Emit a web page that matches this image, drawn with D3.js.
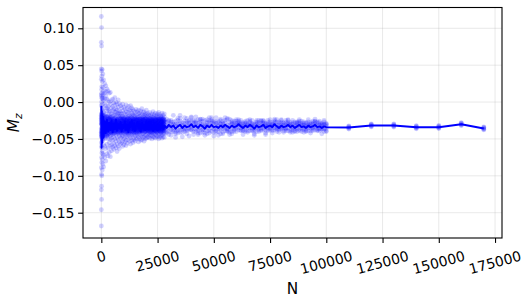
<!DOCTYPE html>
<html>
<head>
<meta charset="utf-8">
<script src="https://cdn.jsdelivr.net/npm/d3@7"></script>
<style>
  body { margin: 0; background: #fff; }
  text { font-family: "DejaVu Sans", sans-serif; }
</style>
</head>
<body>
<svg id="chart" width="532" height="303"></svg>
<script>
// values are in thousandths of M_z

// dense part, N = 0 .. 28000
var nA = [0, 100, 200, 400, 700, 1000, 1500].concat(d3.range(2000, 28001, 500));
var lineA = [-5, -62, -12, -55, -20, -48, -26,
  -42, -24, -40, -28, -38,
  -25, -41, -29, -37, -24, -39, -30, -36,
  -27, -40, -31, -35, -26, -38, -30, -41, -28, -34, -25, -37,
  -29, -39, -32, -27, -36, -30, -40, -28, -35, -31, -38, -26,
  -33, -37, -29, -36, -31, -39, -28, -35, -32, -38, -30, -36, -33, -29, -37, -32];
var samplesA = [
  [116, 81, 45, 31, 10, -20, -55, -89, -119, -146, -168, -5],
  [101, 76, 42, 17, 8, -40, -75, -98, -114, -132, 0, -60],
  [35, 21, 12, -15, -48, -69, -82, -100, -30, 5, -62, -25],
  [44, 28, 6, -10, -22, -35, -50, -66, -78, -92, -3, -41],
  [38, 20, 4, -12, -28, -38, -52, -70, -84, 10, -45, -18],
  [30, 15, 2, -14, -26, -33, -44, -58, -72, -88, -8, -50],
  [25, 12, -2, -18, -27, -36, -47, -60, -75, 5, -40, -22],
  [22, 8, -5, -16, -30, -38, -49, -63, -80, 14, -25, -44],
  [18, 4, -8, -20, -29, -35, -46, -57, -70, -12, -40, -31],
  [15, 2, -10, -21, -31, -39, -50, -62, -73, -26, -44, -6],
  [12, 0, -12, -23, -28, -34, -43, -55, -68, -17, -37, -30],
  [13, -3, -14, -24, -33, -40, -51, -60, -74, -20, -29, -46],
  [2, -8, -16, -25, -30, -35, -41, -49, -58, -66, -21, -38],
  [4, -6, -19, -27, -33, -37, -44, -52, -61, -12, -29, -40],
  [-1, -10, -18, -24, -31, -34, -39, -47, -56, -64, -27, -43],
  [6, -4, -13, -22, -28, -36, -42, -50, -59, -17, -33, -38],
  [0, -9, -20, -26, -32, -35, -45, -53, -62, -14, -30, -39],
  [-3, -11, -17, -23, -29, -34, -40, -48, -57, -67, -25, -37],
  [3, -7, -15, -26, -31, -36, -43, -51, -60, -19, -28, -41],
  [-2, -12, -21, -27, -33, -38, -46, -54, -63, -16, -30, -35],
  [-5, -14, -22, -28, -32, -36, -41, -49, -57, -19, -30, -38],
  [-8, -16, -20, -26, -31, -35, -40, -47, -55, -24, -33, -44],
  [-3, -12, -19, -27, -30, -34, -39, -46, -53, -60, -29, -37],
  [-7, -15, -23, -29, -33, -37, -42, -50, -58, -21, -31, -26],
  [-10, -17, -21, -28, -32, -35, -43, -48, -54, -25, -36, -39],
  [-4, -13, -20, -25, -30, -34, -38, -45, -52, -59, -28, -41],
  [-9, -16, -22, -27, -31, -36, -40, -47, -56, -24, -33, -38],
  [-6, -14, -19, -26, -29, -33, -37, -44, -51, -22, -35, -42],
  [-11, -18, -23, -28, -32, -36, -41, -46, -53, -26, -30, -39],
  [-5, -12, -20, -25, -31, -34, -39, -48, -57, -23, -37, -29],
  [-8, -15, -21, -27, -30, -35, -40, -45, -52, -18, -33, -43],
  [-10, -17, -22, -26, -32, -37, -42, -49, -55, -24, -29, -36],
  [-12, -18, -23, -28, -31, -35, -39, -44, -51, -26, -33, -37],
  [-14, -19, -24, -27, -32, -36, -40, -46, -53, -21, -30, -38],
  [-10, -17, -22, -29, -33, -34, -41, -45, -50, -25, -31, -36],
  [-13, -20, -25, -28, -30, -35, -38, -43, -49, -23, -32, -40],
  [-11, -16, -21, -27, -31, -33, -39, -47, -54, -24, -36, -29],
  [-15, -19, -24, -26, -32, -37, -41, -44, -50, -22, -30, -35],
  [-12, -18, -23, -29, -30, -34, -38, -45, -52, -27, -33, -40],
  [-9, -17, -22, -27, -31, -36, -40, -46, -51, -25, -34, -38],
  [-14, -20, -25, -28, -33, -35, -39, -43, -48, -23, -30, -37],
  [-13, -18, -21, -26, -32, -34, -41, -47, -53, -24, -29, -36],
  [-16, -19, -24, -29, -31, -36, -38, -44, -50, -22, -33, -40],
  [-11, -17, -23, -27, -30, -35, -39, -45, -49, -26, -32, -37],
  [-15, -20, -24, -28, -31, -34, -38, -43, -48, -26, -33, -36],
  [-17, -21, -25, -29, -32, -35, -37, -42, -47, -23, -30, -39],
  [-14, -19, -26, -27, -33, -36, -40, -44, -49, -22, -31, -35],
  [-18, -22, -24, -30, -31, -34, -38, -41, -46, -27, -33, -37],
  [-16, -20, -25, -28, -32, -35, -39, -45, -50, -24, -30, -36],
  [-13, -21, -23, -29, -31, -33, -37, -42, -47, -26, -34, -40],
  [-17, -19, -26, -28, -33, -36, -38, -43, -48, -22, -31, -35],
  [-15, -22, -24, -27, -30, -34, -39, -44, -49, -25, -32, -37],
  [-18, -20, -25, -29, -32, -35, -40, -41, -46, -23, -30, -38],
  [-16, -21, -23, -28, -31, -33, -37, -42, -47, -26, -34, -36],
  [-14, -19, -26, -30, -33, -36, -38, -45, -50, -24, -31, -39],
  [-17, -22, -24, -27, -31, -34, -39, -43, -48, -25, -33, -35],
  [-19, -20, -25, -29, -32, -35, -37, -41, -46, -23, -30, -38],
  [-15, -21, -23, -28, -30, -33, -40, -44, -49, -27, -34, -36],
  [-18, -22, -26, -29, -32, -36, -38, -42, -47, -24, -31, -37],
  [-16, -20, -24, -27, -31, -34, -39, -43, -48, -25, -33, -35]
];
// the crowded core of the dense part, offsets from coreCenter
var coreCenter = -32;
var coreA = [
  [14, -9, 3, -15, 7, -4, 10, -12], [-6, 12, -14, 2, 9, -10, 5, 16],
  [8, -13, 4, -3, 15, -7, -11, 1], [-10, 6, 13, -5, -1, 11, -15, 3],
  [12, -4, -9, 7, -14, 2, 9, -6], [-2, 10, -7, 14, -11, 5, -3, 8],
  [6, -12, 1, -8, 11, -5, 13, -1], [-9, 4, 12, -3, 7, -13, 0, 9],
  [3, -7, 10, -11, 5, 8, -4, -14], [-12, 9, -2, 6, -6, 13, -9, 2],
  [10, -5, 7, -10, 1, -8, 4, 12], [-4, 11, -13, 3, 8, -2, -7, 6],
  [7, -3, 9, -8, 2, -6, 4, -10], [-5, 8, -2, 6, -9, 3, 10, -1],
  [2, -7, 5, -4, 9, -10, 1, 6], [-8, 4, -1, 10, -3, 7, -6, 3],
  [9, -2, -9, 3, 6, -5, 2, -7], [-3, 6, 8, -7, 1, -10, 5, -4],
  [5, -9, 2, 7, -4, 4, -1, 9], [-6, 1, -5, 4, 10, -2, -8, 3],
  [8, -4, 6, -10, 3, -7, 9, 0], [-2, 7, -8, 2, -5, 6, -3, 10],
  [4, -6, 1, 9, -9, 2, 7, -5], [-7, 3, 10, -3, 5, -1, -6, 8],
  [1, -8, 4, 6, -2, 9, -4, -9], [6, -1, -7, 3, 8, -5, 2, -3],
  [-4, 9, -3, -6, 2, 7, -10, 5], [10, -5, 3, -1, -8, 4, 6, -2],
  [-1, 4, -9, 7, 3, -3, 8, -6], [3, -7, 6, -2, -5, 10, -4, 1],
  [-9, 2, 8, -4, 6, -1, 3, -7], [5, -3, -6, 9, 1, -8, 4, 2],
  [-6, 7, 2, -5, -3, 5, -9, 8], [7, -1, -4, 4, 9, -6, 1, -8],
  [-3, 5, -10, 2, -7, 8, 6, -2], [2, -8, 7, -1, 4, -4, -5, 9],
  [-5, 3, 1, -9, 8, -2, 5, -6], [8, -6, 4, 3, -3, 6, -8, 0],
  [-2, 9, -5, 6, -1, -7, 2, 4], [4, -4, -2, -7, 7, 3, -6, 9],
  [-7, 1, 9, -3, 5, -5, 8, -1], [1, -9, 3, 5, -4, 2, -2, 7],
  [6, -2, -8, 1, -6, 9, 4, -4], [-4, 6, 2, -5, 10, -3, -7, 3],
  [9, -7, 5, -2, -1, 7, 1, -5], [-1, 3, -6, 8, -8, 4, -3, 6],
  [3, -5, 7, -4, 2, -9, 5, 1], [-8, 8, -1, 3, 6, -2, -4, -6],
  [5, -2, 4, -9, -3, 6, 2, 8], [-6, 4, -7, 1, 9, -5, 7, -3],
  [2, -1, 6, -6, -4, 3, -9, 5], [-3, 7, -3, 4, 1, -7, 8, -2],
  [7, -6, 1, -2, 5, 4, -5, -8], [-5, 2, 9, -8, 3, -4, 1, 6],
  [0, -4, -5, 7, -7, 8, 3, -1], [4, 6, -2, -3, 2, -6, -8, 9],
  [-7, -1, 5, 3, -9, 1, 6, -4], [1, 8, -6, 5, 4, -3, -2, 7],
  [6, -3, 3, -7, -1, 9, -5, 2], [-2, 5, -9, 2, 7, -4, 4, -6]
];

// middle part, N = 29000 .. 100000
var nB = d3.range(29000, 100001, 1000);
var lineB = [-35, -31, -34, -32, -36, -33, -31, -35, -32, -34,
  -33, -30, -34, -32, -35, -31, -33, -36, -32, -34,
  -31, -34, -33, -35, -32, -34, -31, -33, -35, -32,
  -34, -33, -30, -33, -35, -32, -34, -31, -33, -36,
  -32, -34, -33, -31, -35, -33, -32, -34, -30, -33,
  -35, -32, -34, -33, -31, -34, -32, -35, -33, -31,
  -34, -33, -35, -32, -34, -33, -31, -34, -33, -35,
  -33, -34];
// spread of the samples around each mean, 7 per N
var perB = 7;
var devB = [
  3, -5, 8, -2, 12, -7, 1, -4, 6, -9, 2, 5, -13, -1,
  7, -3, -6, 4, -11, 9, 0, 2, -8, 5, 14, -3, -6, 1,
  -5, 4, 10, -2, -7, 6, -12, 8, -4, 1, -9, 3, 11, -6,
  2, -7, 5, -3, 9, -10, 13, -6, 3, 7, -2, -12, 4, 0,
  6, -1, -8, 11, -4, 3, -6, 5, -9, 2, 8, -5, -3, 12,
  -3, 8, -5, 1, -13, 6, 4, 9, -2, -7, 4, -4, 10, -8,
  5, -6, 2, 9, -3, -10, 7, -1, 4, -8, 12, 3, -5, 6,
  -7, 3, 11, -4, 6, -2, -9, 4, -6, 8, -3, 1, -11, 7,
  1, -4, 7, -8, 3, 10, -5, -9, 5, 2, -6, 11, -2, 4,
  8, -2, -7, 5, -11, 3, 0, 6, -3, 9, -5, -8, 2, 13,
  -4, 7, 3, -9, 5, -1, 10, -2, 6, -7, 4, -12, 8, -3,
  4, -8, 1, 6, -3, 12, -6, 7, -5, 3, -10, 2, -1, 9,
  -6, 2, 9, -4, 7, -11, 3, 5, -7, -2, 8, 4, -9, 1,
  3, -5, -1, 10, -8, 6, -3, -4, 9, -6, 2, 11, -3, -7,
  7, -3, 4, -9, 1, -6, 12, 2, -8, 5, -4, 7, -11, 3,
  -2, 5, -6, 3, 8, -4, 1, 4, -3, 7, -7, 2, -1, 9,
  6, -1, -5, 2, -8, 4, 0, -5, 3, 8, -2, -6, 5, 1,
  1, -4, 7, -3, 5, -9, 2, 3, -6, 1, 6, -2, -8, 4,
  -5, 3, 2, -7, 9, -1, 4, 7, -2, -4, 3, -8, 5, 0,
  4, -6, 8, -2, 1, -5, 3, -3, 5, 2, -7, 6, -1, -9,
  2, -3, -8, 5, -1, 7, 4, 6, -4, 3, -2, 9, -6, 1,
  -6, 1, 4, -2, 7, -4, 8, -1, 3, -7, 5, 2, -5, 6,
  3, -7, 6, 1, -3, 5, -9, 5, -2, -6, 8, -4, 1, 3,
  -4, 8, -2, 5, -6, 2, 0, 1, -5, 4, -8, 6, 3, -3,
  7, -2, 3, -5, 1, -8, 5, -3, 6, -1, 2, -7, 9, -4,
  -1, 4, -6, 8, -3, 2, 6, 4, -4, 7, -2, -5, 1, 8,
  5, -5, 2, -1, -7, 6, 3, -6, 2, 5, -3, 8, -2, -4,
  0, 6, -4, 3, -8, 1, 7, 3, -7, 1, 6, -3, 4, -5,
  -3, 2, 7, -6, 4, -2, -9, 6, -1, -4, 3, 8, -5, 2,
  4, -4, 1, 6, -2, -7, 5, -2, 5, 3, -6, 1, 7, -8,
  2, -6, 8, -3, 5, -1, 3, 1, -3, 6, -5, 4, -8, 2,
  -5, 3, -2, 7, 1, -4, 6, 5, -1, -7, 2, 8, -3, 0,
  6, -2, 4, -8, 3, -5, 1, -4, 7, -2, 5, -6, 3, -1,
  -1, 5, -7, 2, 8, -3, 4, 3, -5, 1, -2, 6, -4, 7,
  5, -3, 2, -6, 1, 7, -4, -2, 4, -8, 6, -1, 3, 5,
  -3, 6, -4, 3, -7, 2, 8, 4, -2, 5, -5, 1, -6, 3
];

// sparse tail
var nC = [110000, 120000, 130000, 140000, 150000, 160000, 170000];
var lineC = [-34.5, -31.7, -31.8, -34.2, -34.0, -30.0, -35.8];
var devC = [1.5, -1.2, 0.6, -2.0, 2.2, -0.4];

var xTicks = [0, 25000, 50000, 75000, 100000, 125000, 150000, 175000];
var yTicks = [-0.15, -0.10, -0.05, 0.00, 0.05, 0.10];

///////////////////////////////////////////////////////////////////////////////
// build points and mean line

var points = [];
var meanLine = [];
nA.forEach(function (n, i) {
  samplesA[i].forEach(function (v) { points.push({ n: n, v: v / 1000 }); });
  (coreA[i] || []).forEach(function (d) { points.push({ n: n, v: (coreCenter + d) / 1000 }); });
  meanLine.push({ n: n, v: lineA[i] / 1000 });
});
nB.forEach(function (n, i) {
  for (var k = 0; k < perB; k++)
    points.push({ n: n, v: (lineB[i] + devB[i * perB + k]) / 1000 });
  meanLine.push({ n: n, v: lineB[i] / 1000 });
});
nC.forEach(function (n, i) {
  devC.forEach(function (d) { points.push({ n: n, v: (lineC[i] + d) / 1000 }); });
  meanLine.push({ n: n, v: lineC[i] / 1000 });
});

///////////////////////////////////////////////////////////////////////////////
// axes

var plotL = 83, plotR = 502, plotT = 7.5, plotB = 238;
var svg = d3.select("#chart");

var x = d3.scaleLinear().domain([-8150, 178100]).range([plotL, plotR]);
var y = d3.scaleLinear().domain([-0.1843, 0.1282]).range([plotB, plotT]);

svg.append("defs").append("clipPath").attr("id", "plot")
  .append("rect").attr("x", plotL).attr("y", plotT)
  .attr("width", plotR - plotL).attr("height", plotB - plotT);

// grid
var grid = svg.append("g").attr("stroke", "#b0b0b0").attr("stroke-opacity", 0.35)
  .attr("stroke-width", 0.8);
grid.selectAll("line.gx").data(xTicks).enter().append("line")
  .attr("x1", function (d) { return x(d); }).attr("x2", function (d) { return x(d); })
  .attr("y1", plotT).attr("y2", plotB);
grid.selectAll("line.gy").data(yTicks).enter().append("line")
  .attr("y1", function (d) { return y(d); }).attr("y2", function (d) { return y(d); })
  .attr("x1", plotL).attr("x2", plotR);

// data
var plot = svg.append("g").attr("clip-path", "url(#plot)");
plot.append("g").selectAll("circle").data(points).enter().append("circle")
  .attr("cx", function (d) { return x(d.n); })
  .attr("cy", function (d) { return y(d.v); })
  .attr("r", 2.4)
  .attr("fill", "#0000ff")
  .attr("fill-opacity", 0.18);

plot.append("path").datum(meanLine)
  .attr("fill", "none").attr("stroke", "#0000ff").attr("stroke-width", 2)
  .attr("stroke-linejoin", "round")
  .attr("d", d3.line().x(function (d) { return x(d.n); }).y(function (d) { return y(d.v); }));

// axis lines and ticks
var xAxis = svg.append("g").attr("transform", "translate(0," + plotB + ")")
  .call(d3.axisBottom(x).tickValues(xTicks).tickSize(4.9).tickFormat(""));
var yAxis = svg.append("g").attr("transform", "translate(" + plotL + ",0)")
  .call(d3.axisLeft(y).tickValues(yTicks).tickSize(4.9).tickFormat(d3.format(".2f")));
[xAxis, yAxis].forEach(function (a) {
  a.select(".domain").remove();
  a.selectAll(".tick line").attr("stroke", "#000").attr("stroke-width", 1.1);
});
yAxis.selectAll(".tick text").attr("x", -8.5).attr("font-size", 14)
  .attr("font-family", "DejaVu Sans").attr("fill", "#000");

svg.append("rect").attr("x", plotL).attr("y", plotT)
  .attr("width", plotR - plotL).attr("height", plotB - plotT)
  .attr("fill", "none").attr("stroke", "#000").attr("stroke-width", 1.1);

// rotated x tick labels (15 deg, centred under each tick)
var rot = 15 * Math.PI / 180, lineH = 16.3;
xTicks.forEach(function (t) {
  var lab = svg.append("text").text(String(t))
    .attr("font-size", 14).attr("text-anchor", "middle")
    .attr("dominant-baseline", "central");
  var w = lab.node().getComputedTextLength();
  var boxH = w * Math.sin(rot) + lineH * Math.cos(rot);
  lab.attr("transform", "translate(" + x(t) + "," + (plotB + 9.6 + boxH / 2) + ") rotate(-15)");
});

// axis titles
svg.append("text").attr("x", (plotL + plotR) / 2).attr("y", 294)
  .attr("text-anchor", "middle").attr("font-size", 15.3).text("N");

var ylab = svg.append("text").attr("transform", "translate(19," + ((plotT + plotB) / 2) + ") rotate(-90)")
  .attr("text-anchor", "middle").attr("font-size", 15.3).attr("font-style", "italic");
ylab.append("tspan").text("M");
ylab.append("tspan").attr("font-size", 10.7).attr("dy", 3).text("z");
</script>
</body>
</html>
